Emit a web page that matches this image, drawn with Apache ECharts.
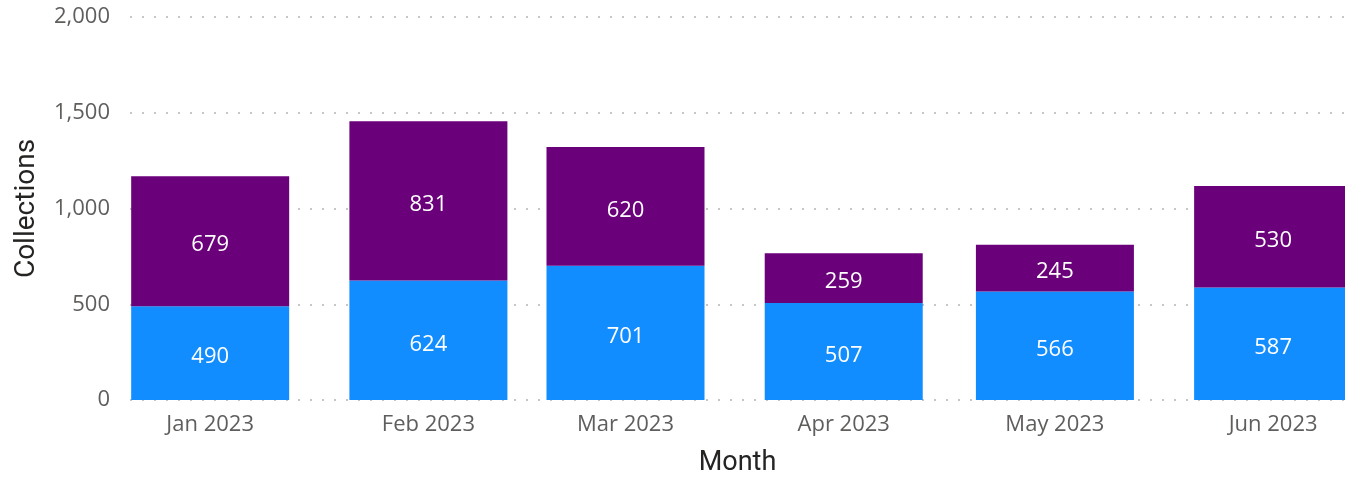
<!DOCTYPE html>
<html>
<head>
<meta charset="utf-8">
<script src="https://cdn.jsdelivr.net/npm/echarts@6/dist/echarts.min.js"></script>
<style>
  html, body { margin: 0; padding: 0; background: #ffffff; }
  #chart { width: 1345px; height: 479px; }
</style>
</head>
<body>
<div id="chart"></div>
<script>
// ---- data ----
const months = ['2023-01-01', '2023-02-01', '2023-03-01', '2023-04-01', '2023-05-01', '2023-06-01'];
const monthLabels = ['Jan 2023', 'Feb 2023', 'Mar 2023', 'Apr 2023', 'May 2023', 'Jun 2023'];
const seriesBlue = [490, 624, 701, 507, 566, 587];
const seriesPurple = [679, 831, 620, 259, 245, 530];
const yTicks = [0, 500, 1000, 1500, 2000];

// ---- layout ----
const CHART_W = 1345;
const GRID_LEFT = 130, GRID_RIGHT = 0;
const BAR_W = 158;
const PLOT_W = CHART_W - GRID_LEFT - GRID_RIGHT;

// continuous date axis (Power BI style): months placed by their real dates
const DAY = 86400000;
const toTime = s => Date.UTC(+s.slice(0, 4), +s.slice(5, 7) - 1, +s.slice(8, 10));
const monthTimes = months.map(toTime);
const viewMin = monthTimes[0] - 11.39 * DAY;   // visible range of the date axis
const viewSpan = 172.6 * DAY;
// ECharts widens a time axis carrying bars by the bar width; pre-shrink so the
// widened extent equals the visible range above.
const rawSpan = viewSpan * (PLOT_W - BAR_W) / PLOT_W;
const timeMin = viewMin + (viewSpan - rawSpan) / 2;
const timeMax = timeMin + rawSpan;

const labelFont = "'Segoe UI', 'Open Sans', sans-serif";
const titleFont = "Roboto, 'Segoe UI', sans-serif";

const chart = echarts.init(document.getElementById('chart'), null, { renderer: 'canvas' });

const barLabel = {
  show: true,
  position: 'inside',
  offset: [0, 4],
  color: '#ffffff',
  fontSize: 22,
  fontFamily: labelFont
};

chart.setOption({
  animation: false,
  useUTC: true,
  grid: {
    left: GRID_LEFT, right: GRID_RIGHT, top: 17, bottom: 79,
    containLabel: false,
    outerBoundsMode: 'none'
  },
  xAxis: [
    {
      type: 'time',
      min: timeMin,
      max: timeMax,
      axisLine: { show: false },
      axisTick: { show: false },
      splitLine: { show: false },
      axisLabel: { show: false }
    },
    {
      type: 'value',
      position: 'bottom',
      min: viewMin,
      max: viewMin + viewSpan,
      name: 'Month',
      nameLocation: 'middle',
      nameGap: 50,
      nameTextStyle: { fontSize: 27, color: '#252423', fontFamily: titleFont },
      axisLine: { show: false },
      axisTick: { show: false },
      splitLine: { show: false },
      axisLabel: {
        customValues: monthTimes,
        formatter: v => {
          const i = monthTimes.indexOf(v);
          return i >= 0 ? monthLabels[i] : '';
        },
        fontSize: 22,
        color: '#605E5C',
        fontFamily: labelFont,
        margin: 14,
        hideOverlap: false
      }
    }
  ],
  yAxis: {
    type: 'value',
    min: yTicks[0],
    max: yTicks[yTicks.length - 1],
    interval: yTicks[1] - yTicks[0],
    name: 'Collections',
    nameLocation: 'middle',
    nameGap: 89,
    nameTextStyle: { fontSize: 28, color: '#252423', fontFamily: titleFont },
    axisLine: { show: false },
    axisTick: { show: false },
    axisLabel: {
      formatter: v => v.toLocaleString('en-US'),
      fontSize: 22,
      color: '#605E5C',
      fontFamily: labelFont,
      margin: 20
    },
    splitLine: {
      show: true,
      lineStyle: { color: '#C8C6C4', width: 2, type: [2, 10] }
    }
  },
  series: [
    {
      name: 'Series A',
      type: 'bar',
      xAxisIndex: 0,
      stack: 'total',
      barWidth: BAR_W,
      clip: true,
      itemStyle: { color: '#118DFF' },
      label: barLabel,
      data: monthTimes.map((t, i) => [t, seriesBlue[i]])
    },
    {
      name: 'Series B',
      type: 'bar',
      xAxisIndex: 0,
      stack: 'total',
      barWidth: BAR_W,
      clip: true,
      itemStyle: { color: '#6B007B' },
      label: barLabel,
      data: monthTimes.map((t, i) => [t, seriesPurple[i]])
    }
  ]
});
</script>
</body>
</html>
